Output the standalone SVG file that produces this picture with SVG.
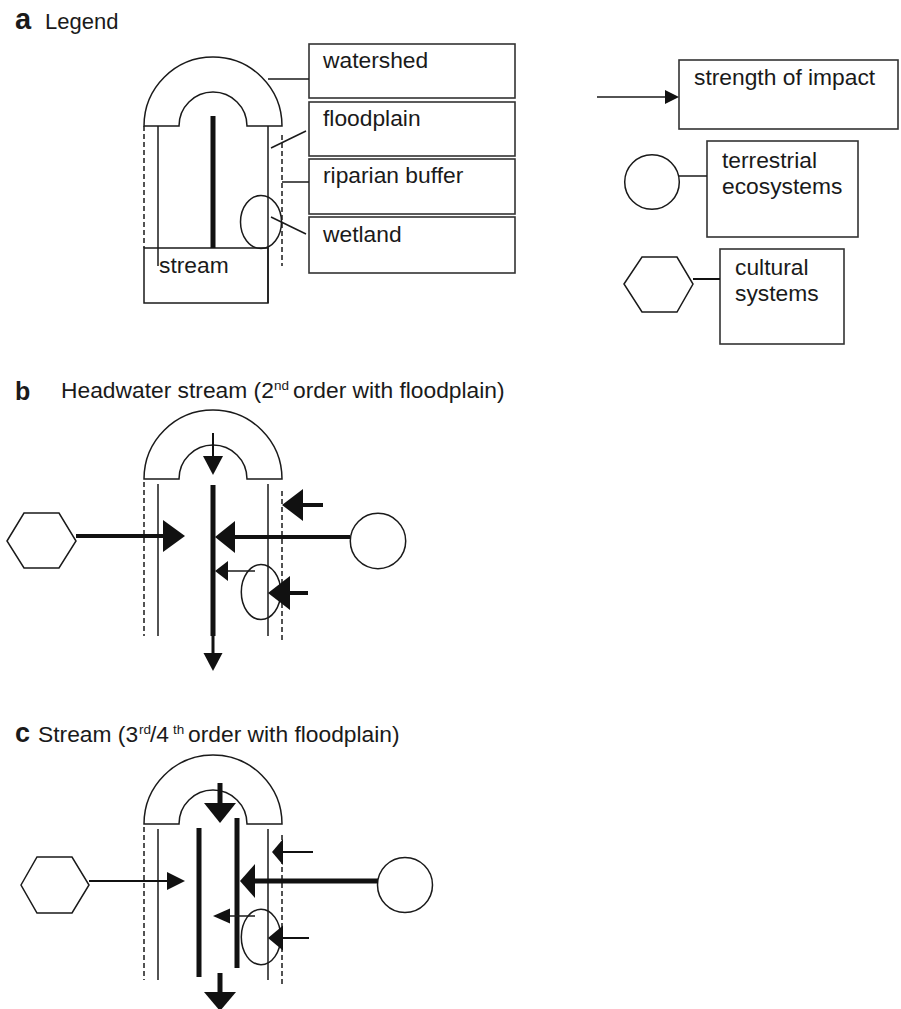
<svg xmlns="http://www.w3.org/2000/svg" width="901" height="1009" viewBox="0 0 901 1009">
<style>
text{font-family:"Liberation Sans",Arial,Helvetica,sans-serif;fill:#1a1a1a;font-size:22.8px}
.lbl{font-weight:bold}
.sup{font-size:13.5px}
.o{fill:none;stroke:#1a1a1a;stroke-width:1.5}
.box{fill:#fff;stroke:#333;stroke-width:1.6}
.d{fill:none;stroke:#1a1a1a;stroke-width:1.5;stroke-dasharray:5,3}
.ln{stroke:#1a1a1a;stroke-width:1.5;fill:none}
.th{stroke:#111;stroke-width:4;fill:none}
.tk{stroke:#111;stroke-width:5;fill:none}
.m{stroke:#111;stroke-width:2;fill:none}
.hd{fill:#111;stroke:none}
</style>
<rect width="901" height="1009" fill="#fff"/>

<!-- Panel a: legend -->
<g id="title-a">
<text x="15" y="29" class="lbl" style="font-size:29px">a</text>
<text x="45" y="29" style="font-size:22px">Legend</text>
</g>
<g id="legend-watershed">
<path class="o" d="M144,126 A69,69 0 0 1 282,126 L247,126 A34,34 0 0 0 179,126 Z"/>
</g>
<g id="legend-floodplain">
<line class="ln" x1="158" y1="126" x2="158" y2="266"/>
<line class="ln" x1="268" y1="126" x2="268" y2="303"/>
</g>
<g id="legend-riparian">
<line class="d" x1="144" y1="126" x2="144" y2="248"/>
<line class="d" x1="282" y1="135" x2="282" y2="266"/>
</g>
<g id="legend-stream">
<rect class="o" x="144" y="248" width="124" height="55"/>
<line class="tk" x1="213" y1="116" x2="213" y2="248"/>
<text x="159" y="273">stream</text>
</g>
<g id="legend-wetland">
<ellipse class="o" cx="261" cy="222" rx="20.5" ry="26.5"/>
</g>
<g id="box-watershed"><rect class="box" x="309" y="44" width="206" height="54"/><text x="323" y="68">watershed</text></g>
<g id="box-floodplain"><rect class="box" x="309" y="102" width="206" height="54"/><text x="323" y="126">floodplain</text></g>
<g id="box-riparian"><rect class="box" x="309" y="159" width="206" height="55"/><text x="323" y="183">riparian buffer</text></g>
<g id="box-wetland"><rect class="box" x="309" y="217" width="206" height="56"/><text x="323" y="242">wetland</text></g>

<g id="box-impact"><rect class="box" x="679" y="60" width="219" height="69"/><text x="694" y="85">strength of impact</text></g>
<g id="legend-circle"><circle class="o" cx="652" cy="182" r="27.3"/></g>
<g id="box-terrestrial"><rect class="box" x="707" y="141" width="151" height="96"/><text x="722" y="168">terrestrial</text><text x="722" y="194">ecosystems</text></g>
<g id="legend-hexagon"><polygon class="o" points="624,284 642,257 677,257 693,284 677,312 642,312"/></g>
<g id="box-cultural"><rect class="box" x="720" y="249" width="124" height="95"/><text x="735" y="275">cultural</text><text x="735" y="301">systems</text></g>

<!-- Panel b -->
<g id="title-b">
<text x="15" y="400" class="lbl" style="font-size:25px">b</text>
<text x="61" y="398">Headwater stream (2</text>
<text x="274" y="390" class="sup">nd</text>
<text x="293" y="398">order with floodplain)</text>
</g>
<g id="b-watershed"><path class="o" d="M144,479 A69,69 0 0 1 282,479 L247,479 A34,34 0 0 0 179,479 Z"/></g>
<g id="b-riparian">
<line class="d" x1="144" y1="482" x2="144" y2="636"/>
<line class="d" x1="282" y1="491" x2="282" y2="643"/>
</g>
<g id="b-floodplain">
<line class="ln" x1="158" y1="484" x2="158" y2="636"/>
<line class="ln" x1="268" y1="484" x2="268" y2="636"/>
</g>
<g id="b-stream"><line class="tk" x1="213" y1="485" x2="213" y2="636"/></g>
<g id="b-wetland"><ellipse class="o" cx="261" cy="592" rx="19.7" ry="27.5"/></g>
<g id="b-cultural"><polygon class="o" points="7,541 24,513 59,513 76,541 59,568 24,568"/></g>
<g id="b-terrestrial"><circle class="o" cx="378" cy="541" r="27.7"/></g>

<!-- Panel c -->
<g id="title-c">
<text x="15" y="742" class="lbl" style="font-size:27px">c</text>
<text x="38" y="742">Stream (3</text>
<text x="139" y="734" class="sup">rd</text>
<text x="150" y="742">/4</text>
<text x="173" y="734" class="sup">th</text>
<text x="188" y="742">order with floodplain)</text>
</g>
<g id="c-watershed"><path class="o" d="M144,824 A69,69 0 0 1 282,824 L247,824 A34,34 0 0 0 179,824 Z"/></g>
<g id="c-riparian">
<line class="d" x1="144" y1="827" x2="144" y2="980"/>
<line class="d" x1="282" y1="835" x2="282" y2="987"/>
</g>
<g id="c-floodplain">
<line class="ln" x1="158" y1="829" x2="158" y2="980"/>
<line class="ln" x1="268" y1="829" x2="268" y2="980"/>
</g>
<g id="c-stream">
<line class="tk" x1="199" y1="828" x2="199" y2="977"/>
<line class="tk" x1="237" y1="818" x2="237" y2="968"/>
</g>
<g id="c-wetland"><ellipse class="o" cx="261" cy="937" rx="19.7" ry="27.7"/></g>
<g id="c-cultural"><polygon class="o" points="21,885 37,857 72,857 89,885 72,913 37,913"/></g>
<g id="c-terrestrial"><circle class="o" cx="405" cy="885" r="27.5"/></g>

<g id="connectors">
<!-- legend leaders -->
<line class="ln" x1="268" y1="79" x2="309" y2="79"/>
<line class="ln" x1="271" y1="148" x2="306" y2="131"/>
<line class="ln" x1="282" y1="182" x2="309" y2="182"/>
<line class="ln" x1="271" y1="217" x2="306" y2="234"/>
<line class="ln" x1="597" y1="97" x2="666" y2="97"/>
<polygon class="hd" points="665,90 665,104 679,97"/>
<line class="ln" x1="679" y1="176" x2="707" y2="176"/>
<line class="m" x1="693" y1="279" x2="720" y2="279"/>

<!-- panel b arrows -->
<line class="m" x1="213" y1="433" x2="213" y2="457"/>
<polygon class="hd" points="203,456 223,456 213,475"/>
<line class="m" x1="213" y1="635" x2="213" y2="654" style="stroke-width:3"/>
<polygon class="hd" points="203.5,653 222.5,653 213,671"/>
<line class="th" x1="76" y1="536" x2="164" y2="536"/>
<polygon class="hd" points="163,520 163,552 185,536"/>
<line class="th" x1="350" y1="537" x2="234" y2="537"/>
<polygon class="hd" points="235,521 235,553 215,537"/>
<line class="th" x1="323" y1="505" x2="302" y2="505"/>
<polygon class="hd" points="303,489 303,521 282,505"/>
<line class="ln" x1="255" y1="571" x2="227" y2="571"/>
<polygon class="hd" points="228,561 228,581 215,571"/>
<line class="th" x1="308" y1="593" x2="289" y2="593"/>
<polygon class="hd" points="290,576 290,610 268,593"/>

<!-- panel c arrows -->
<line class="tk" x1="220" y1="783" x2="220" y2="804"/>
<polygon class="hd" points="204,803 236,803 220,823"/>
<line class="tk" x1="220" y1="973" x2="220" y2="993"/>
<polygon class="hd" points="204,992 236,992 220,1011"/>
<line class="m" x1="89" y1="881" x2="168" y2="881"/>
<polygon class="hd" points="167,872 167,890 185,881"/>
<line class="tk" x1="378" y1="881" x2="254" y2="881"/>
<polygon class="hd" points="255,864 255,898 240,881"/>
<line class="m" x1="313" y1="852" x2="282" y2="852"/>
<polygon class="hd" points="283,839 283,865 272,852"/>
<line class="ln" x1="255" y1="916" x2="229" y2="916"/>
<polygon class="hd" points="230,908.5 230,923.5 213,916"/>
<line class="m" x1="309" y1="938" x2="282" y2="938"/>
<polygon class="hd" points="283,925.5 283,950.5 268,938"/>
</g>
</svg>
